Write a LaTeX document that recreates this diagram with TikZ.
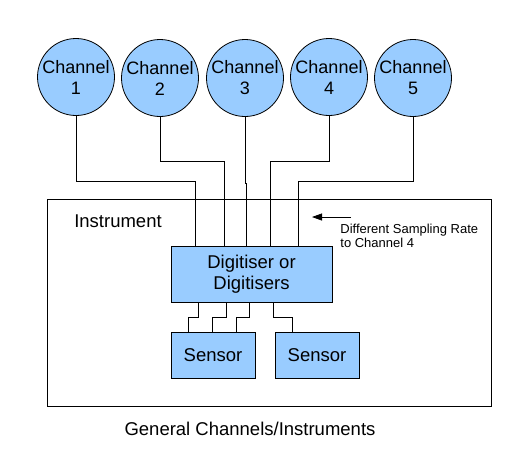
\documentclass[tikz,border=0pt]{standalone}
\usepackage{fontspec}
\setmainfont{Liberation Sans}
\usepackage{tikz}
\usetikzlibrary{arrows.meta}
\definecolor{chanblue}{HTML}{99CCFF}

\begin{document}
\begin{tikzpicture}[x=1pt,y=-1pt,line width=0.8pt,>={Triangle[length=10pt,width=7pt]},
    chan/.style={circle,draw,fill=chanblue,minimum size=77pt,inner sep=0pt,align=center,
      font=\fontsize{18}{21}\selectfont},
    unit/.style={draw,fill=chanblue,inner sep=0pt,align=center,
      font=\fontsize{18.5}{21}\selectfont}]
      \useasboundingbox (0,0) rectangle (529,472);
      \node[draw,minimum width=444pt,minimum height=207pt,inner sep=0pt] (inst) at (269,302.5) {};
      \node[font=\fontsize{18.5}{20}\selectfont] (instlbl) at (118,221) {Instrument};
      \node[chan] (ch1) at (76,77) {Channel\\1};
      \node[chan] (ch2) at (160,78) {Channel\\2};
      \node[chan] (ch3) at (245,78) {Channel\\3};
      \node[chan] (ch4) at (329,77) {Channel\\4};
      \node[chan] (ch5) at (413,78) {Channel\\5};
      \node[unit,minimum width=161pt,minimum height=56pt] (dig) at (251.5,274) {Digitiser or\\Digitisers};
      \node[unit,minimum width=84pt,minimum height=46pt] (sensA) at (213,355) {Sensor};
      \node[unit,minimum width=84pt,minimum height=46pt] (sensB) at (317,355) {Sensor};
      % wire ends on the digitiser
      \coordinate (t1) at ([xshift=25pt]dig.north west);
      \coordinate (t2) at ([xshift=54pt]dig.north west);
      \coordinate (t3) at ([xshift=76pt]dig.north west);
      \coordinate (t4) at ([xshift=100pt]dig.north west);
      \coordinate (t5) at ([xshift=128pt]dig.north west);
      \coordinate (b1) at ([xshift=28pt]dig.south west);
      \coordinate (b2) at ([xshift=56pt]dig.south west);
      \coordinate (b3) at ([xshift=79pt]dig.south west);
      \coordinate (b4) at ([xshift=103pt]dig.south west);
      % wire ends on the sensors
      \coordinate (s1) at ([xshift=18pt]sensA.north west);
      \coordinate (s2) at ([xshift=42pt]sensA.north west);
      \coordinate (s3) at ([xshift=66pt]sensA.north west);
      \coordinate (s4) at ([xshift=18pt]sensB.north west);
      \draw (ch1.south) -- ++(0,65) -| (t1); % 1 -> digitiser
      \draw (ch2.south) -- ++(0,44) -| (t2); % 2 -> digitiser
      \draw (ch3.south) -- ++(0,66) -| (t3); % 3 -> digitiser
      \draw (ch4.south) -- ++(0,45) -| (t4); % 4 -> digitiser
      \draw (ch5.south) -- ++(0,64) -| (t5); % 5 -> digitiser
      \draw (b1) -- ++(0,15) -| (s1);
      \draw (b2) -- ++(0,15) -| (s2);
      \draw (b3) -- ++(0,15) -| (s3);
      \draw (b4) -- ++(0,15) -| (s4);
      \coordinate (rateS) at (351,217);
      \coordinate (rateE) at (312,217);
      \draw [->] (rateS) -- (rateE);
      \node[anchor=west,align=left,inner sep=0pt,font=\fontsize{13}{14}\selectfont] (rate) at (340,236)
        {Different Sampling Rate\\to Channel 4};
      \node[font=\fontsize{18.5}{20}\selectfont] (title) at (250,429) {General Channels/Instruments};
    \end{tikzpicture}
\end{document}
